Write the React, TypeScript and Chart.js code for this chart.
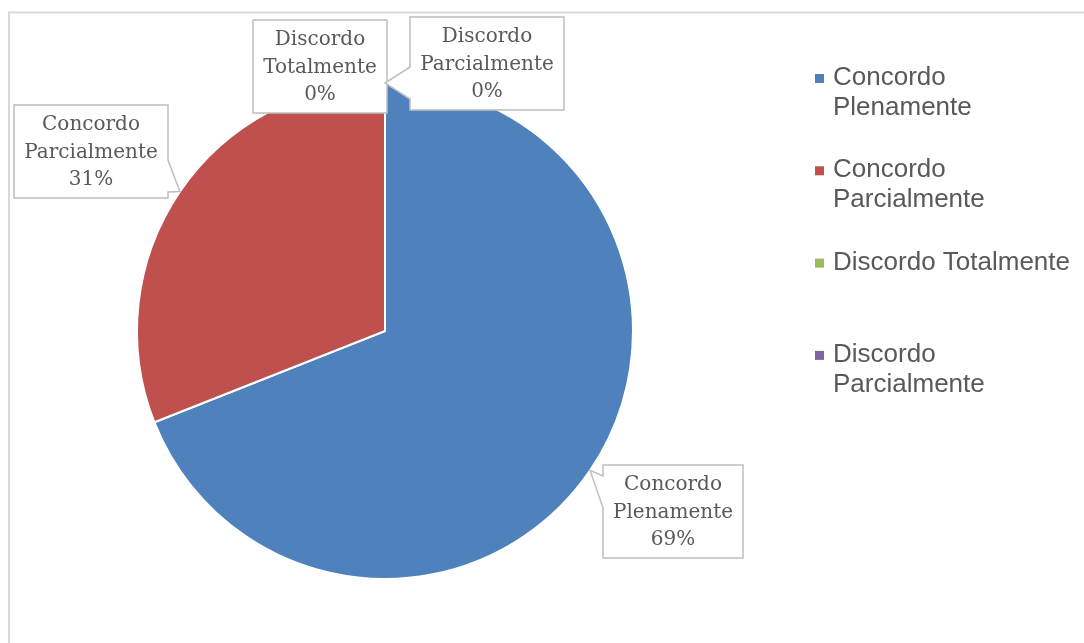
import React, { useEffect, useRef } from "react";
import { Chart, registerables } from "chart.js";

Chart.register(...registerables);

// ---- data ----
const categories = [
  "Concordo Plenamente",
  "Concordo Parcialmente",
  "Discordo Totalmente",
  "Discordo Parcialmente",
];
const values = [69, 31, 0, 0];
const sliceColors = ["#4F81BD", "#C0504D", "#9BBB59", "#8064A2"];

// ---- layout of callout label boxes (left/top in px) ----
const labelBoxes = [
  { left: 603, top: 465 },
  { left: 14, top: 105 },
  { left: 253, top: 20 },
  { left: 410, top: 17 },
];

const TEXT_COLOR = "#595959";
const LABEL_FONT = '20px "DejaVu Serif"';
const LEGEND_FONT = '26px "Liberation Sans"';

function clamp(v: number, a: number, b: number) {
  return Math.max(a, Math.min(b, v));
}

function calloutPath(
  ctx: CanvasRenderingContext2D,
  L: number,
  T: number,
  W: number,
  H: number,
  tx: number,
  ty: number
) {
  const R = L + W;
  const B = T + H;
  const inside = tx >= L && tx <= R && ty >= T && ty <= B;
  let edge: string | null = null;
  if (!inside) {
    if (tx < L) edge = "left";
    else if (tx > R) edge = "right";
    else if (ty < T) edge = "top";
    else edge = "bottom";
  }
  const hw = 16;
  const m1 = 27;
  const m2 = 22;
  ctx.beginPath();
  ctx.moveTo(L, T);
  if (edge === "top") {
    const c = clamp(tx, L + m1, R - m2);
    ctx.lineTo(c - hw, T);
    ctx.lineTo(tx, ty);
    ctx.lineTo(c + hw, T);
  }
  ctx.lineTo(R, T);
  if (edge === "right") {
    const c = clamp(ty, T + m1, B - m2);
    ctx.lineTo(R, c - hw);
    ctx.lineTo(tx, ty);
    ctx.lineTo(R, c + hw);
  }
  ctx.lineTo(R, B);
  if (edge === "bottom") {
    const c = clamp(tx, L + m1, R - m2);
    ctx.lineTo(c + hw, B);
    ctx.lineTo(tx, ty);
    ctx.lineTo(c - hw, B);
  }
  ctx.lineTo(L, B);
  if (edge === "left") {
    const c = clamp(ty, T + m1, B - m2);
    ctx.lineTo(L, c + hw);
    ctx.lineTo(tx, ty);
    ctx.lineTo(L, c - hw);
  }
  ctx.closePath();
}

const framePlugin = {
  id: "frame",
  beforeDraw(chart: any) {
    const ctx = chart.ctx as CanvasRenderingContext2D;
    ctx.save();
    ctx.fillStyle = "#ffffff";
    ctx.fillRect(0, 0, chart.width, chart.height);
    ctx.strokeStyle = "#d9d9d9";
    ctx.lineWidth = 2;
    ctx.strokeRect(9, 12.5, 1300, 1000);
    ctx.restore();
  },
};

const calloutPlugin = {
  id: "callouts",
  afterDatasetsDraw(chart: any) {
    const ctx = chart.ctx as CanvasRenderingContext2D;
    const meta = chart.getDatasetMeta(0);
    const data = chart.data.datasets[0].data as number[];
    const total = data.reduce((a, b) => a + b, 0);
    ctx.save();
    ctx.font = LABEL_FONT;
    meta.data.forEach((arc: any, i: number) => {
      const p = arc.getProps(["x", "y", "startAngle", "endAngle", "outerRadius"], true);
      const mid = (p.startAngle + p.endAngle) / 2;
      const tx = p.x + Math.cos(mid) * p.outerRadius;
      const ty = p.y + Math.sin(mid) * p.outerRadius;
      const label = String(chart.data.labels[i]);
      const pct = Math.round((data[i] / total) * 100) + "%";
      const lines = [...label.split(" "), pct];
      const maxW = Math.max(...lines.map((l) => ctx.measureText(l).width));
      const W = Math.round(maxW + 20);
      const lh = 27.5;
      const H = 93;
      const box = labelBoxes[i];
      calloutPath(ctx, box.left, box.top, W, H, tx, ty);
      ctx.fillStyle = "#ffffff";
      ctx.fill();
      ctx.strokeStyle = "#bfbfbf";
      ctx.lineWidth = 1.5;
      ctx.stroke();
      ctx.fillStyle = TEXT_COLOR;
      ctx.textAlign = "center";
      ctx.textBaseline = "middle";
      lines.forEach((l, j) => {
        ctx.fillText(l, box.left + W / 2, box.top + 20 + j * lh);
      });
    });
    ctx.restore();
  },
};

function wrapText(ctx: CanvasRenderingContext2D, text: string, maxWidth: number) {
  const words = text.split(" ");
  const lines: string[] = [];
  let cur = "";
  for (const w of words) {
    const test = cur ? cur + " " + w : w;
    if (cur && ctx.measureText(test).width > maxWidth) {
      lines.push(cur);
      cur = w;
    } else {
      cur = test;
    }
  }
  if (cur) lines.push(cur);
  return lines;
}

const legendPlugin = {
  id: "customLegend",
  afterDraw(chart: any) {
    const ctx = chart.ctx as CanvasRenderingContext2D;
    const labels = chart.data.labels as string[];
    const bg = chart.data.datasets[0].backgroundColor as string[];
    ctx.save();
    ctx.font = LEGEND_FONT;
    ctx.textBaseline = "middle";
    ctx.textAlign = "left";
    const x0 = 815;
    const textX = 833;
    const y0 = 78;
    const itemStep = 92.3;
    const lineH = 30;
    labels.forEach((lab, i) => {
      const y = y0 + i * itemStep;
      ctx.fillStyle = bg[i];
      ctx.fillRect(x0, y - 4, 9, 9);
      ctx.fillStyle = TEXT_COLOR;
      const lines = wrapText(ctx, lab, 245);
      lines.forEach((l, j) => ctx.fillText(l, textX, y + j * lineH));
    });
    ctx.restore();
  },
};

export default function App() {
  const canvasRef = useRef<HTMLCanvasElement | null>(null);

  useEffect(() => {
    const canvas = canvasRef.current;
    if (!canvas) return;
    const chart = new Chart(canvas, {
      type: "pie",
      data: {
        labels: categories,
        datasets: [
          {
            data: values,
            backgroundColor: sliceColors,
            borderColor: "#ffffff",
            borderWidth: 2,
            hoverOffset: 0,
          },
        ],
      },
      options: {
        responsive: false,
        animation: false,
        layout: { padding: { left: 136, right: 450, top: 82, bottom: 63 } },
        plugins: {
          legend: { display: false },
          tooltip: { enabled: false },
        },
      },
      plugins: [framePlugin, calloutPlugin, legendPlugin],
    } as any);
    return () => chart.destroy();
  }, []);

  return (
    <div style={{ position: "fixed", left: 0, top: 0, width: 1084, height: 643, background: "#fff" }}>
      <canvas ref={canvasRef} width={1084} height={643} style={{ display: "block" }} />
    </div>
  );
}
